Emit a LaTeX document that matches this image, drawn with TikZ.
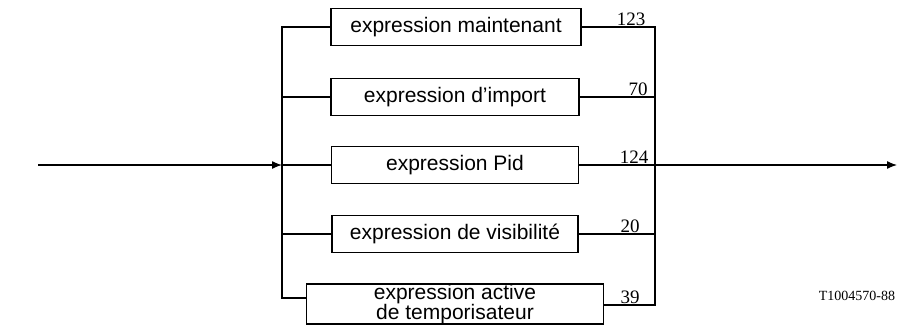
\documentclass[tikz,border=0pt]{standalone}
\usepackage{fontspec}
\setmainfont{Liberation Sans}
\newfontfamily\numfont{Liberation Serif}
\usetikzlibrary{arrows.meta,positioning}

\begin{document}
\begin{tikzpicture}[x=1pt,y=-1pt,line width=1.3pt,>={Latex[length=10pt,width=8pt]},
    exprbox/.style={draw,inner sep=0pt,minimum height=37pt,font=\fontsize{21}{15}\selectfont,align=center},
    numlabel/.style={anchor=south,inner sep=1pt,font=\numfont\fontsize{19}{19}\selectfont}]
    \useasboundingbox (0,0) rectangle (904,327);
    \node[exprbox,minimum width=250pt] (maint) at (456,27) {expression maintenant};
    \node[exprbox,minimum width=248pt] (import) at (455,97) {expression d'import};
    \node[exprbox,minimum width=247pt] (pid) at (455,165) {expression Pid};
    \node[exprbox,minimum width=246pt] (visib) at (455,234) {expression de visibilité};
    \node[exprbox,minimum width=297pt,minimum height=38pt] (tempo) at (455,304) {expression active\\de temporisateur};
    \coordinate (in) at (38,165);
    \coordinate (lbus) at (282,165);
    \coordinate (lbot) at (282,298);
    \coordinate (rbot) at (655,305);
    \coordinate (out) at (897,165);
    \draw[->] (in) -- (lbus);
    \draw (maint.west) -| (lbot) -- (lbot -| tempo.west);
    \draw (import.west) -- (import.west -| lbot);
    \draw (pid.west) -- (lbus);
    \draw (visib.west) -- (visib.west -| lbot);
    \draw (maint.east) -| (rbot) -- (rbot -| tempo.east);
    \draw (import.east) -- (import.east -| rbot);
    \draw (visib.east) -- (visib.east -| rbot);
    \draw[->] (pid.east) -- (out);
    \node[numlabel] (n123) at (631,27) {123};
    \node[numlabel] (n70) at (638,97) {70};
    \node[numlabel] (n124) at (634,165) {124};
    \node[numlabel] (n20) at (630,234) {20};
    \node[numlabel] (n39) at (630,305) {39};
    \node[font=\numfont\fontsize{14}{14}\selectfont] (ref) at (857,296) {T1004570-88};
\end{tikzpicture}
\end{document}
